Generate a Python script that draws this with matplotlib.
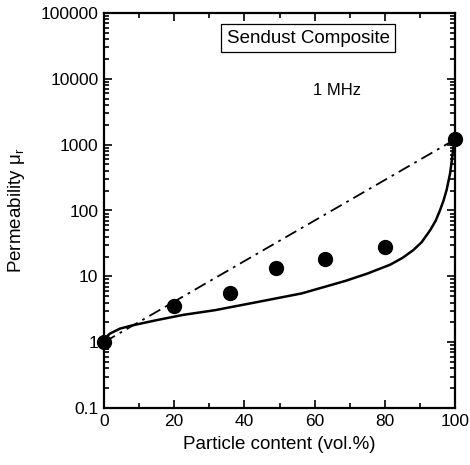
import matplotlib
matplotlib.use('Agg')
import matplotlib.pyplot as plt
from matplotlib.ticker import LogLocator, FixedLocator, NullFormatter

plt.rcParams['font.family'] = ['Liberation Sans', 'DejaVu Sans']

# measured permeability
content = [0, 20, 36, 49, 63, 80, 100]
mu_meas = [1.0, 3.5, 5.6, 13.2, 18.3, 27.5, 1200]

# model curve (solid)
curve_x = [0, 0.5, 1.7, 4.6, 8.3, 15, 22.6, 31.6, 44, 56.3, 68.7, 75, 81.5, 85,
           88.1, 90.5, 92.9, 94.5, 95.7, 96.7, 97.6, 98.6, 99.1, 99.5, 100]
curve_y = [1.0, 1.18, 1.35, 1.61, 1.81, 2.16, 2.6, 3.06, 4.1, 5.5, 8.5, 11, 15, 19,
           25, 33, 50, 70, 100, 140, 204, 365, 580, 880, 1200]

# dash-dot line between the end points
line_x = [0, 100]
line_y = [1.0, 1200]

fig = plt.figure(figsize=(4.7, 4.65), dpi=100)
ax = fig.add_axes([104/470, 1 - 408/465, 351/470, 395/465])

ax.plot(curve_x, curve_y, '-', color='black', lw=1.8)
ax.plot(line_x, line_y, color='black', lw=1.3, dashes=(7, 3, 1.5, 3))
ax.plot(content, mu_meas, 'o', color='black', ms=10, clip_on=False, zorder=5)

ax.set_yscale('log')
ax.set_xlim(0, 100)
ax.set_ylim(0.1, 100000)

ax.set_yticks([0.1, 1, 10, 100, 1000, 10000, 100000])
ax.set_yticklabels(['0.1', '1', '10', '100', '1000', '10000', '100000'])
ax.yaxis.set_minor_locator(LogLocator(base=10, subs=range(2, 10), numticks=20))
ax.yaxis.set_minor_formatter(NullFormatter())
ax.set_xticks([0, 20, 40, 60, 80, 100])
ax.xaxis.set_minor_locator(FixedLocator([10, 30, 50, 70, 90]))

ax.tick_params(which='both', direction='in', top=True, right=True,
               width=1.2, labelsize=12.5, pad=4)
ax.tick_params(which='major', length=6)
ax.tick_params(which='minor', length=3.5)
for s in ax.spines.values():
    s.set_linewidth(1.6)

ax.set_xlabel('Particle content (vol.%)', fontsize=13.5, labelpad=5)
ax.set_ylabel(r'Permeability $\mathregular{\mu_r}$', fontsize=13.5, labelpad=10)

ax.text(0.582, 0.936, 'Sendust Composite', transform=ax.transAxes, ha='center',
        va='center', fontsize=13.5,
        bbox=dict(boxstyle='square,pad=0.3', fc='white', ec='black', lw=0.9))
ax.text(0.664, 0.805, '1 MHz', transform=ax.transAxes, ha='center',
        va='center', fontsize=12)

fig.savefig('out.png', dpi=100)
plt.close(fig)
